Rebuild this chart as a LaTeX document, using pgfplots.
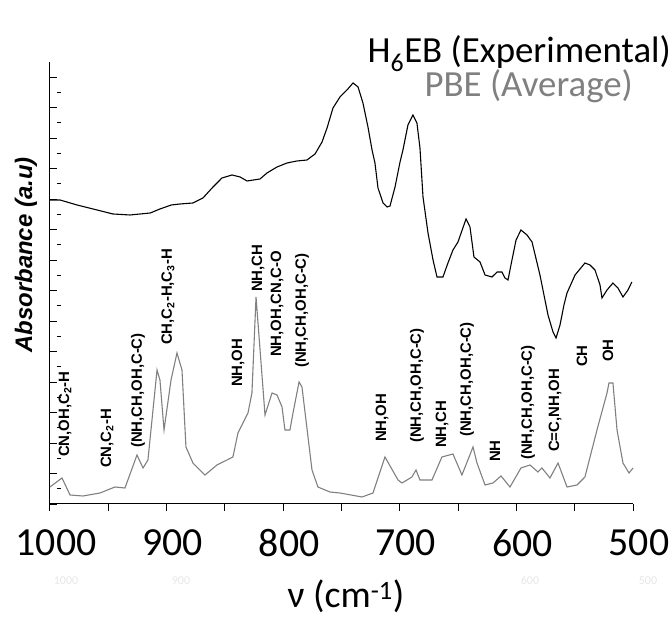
\documentclass[border=0pt]{standalone}
\usepackage{fontspec}
\setmainfont{Carlito}
\newfontfamily\arialfont{Liberation Sans}
\usepackage{pgfplots}
\pgfplotsset{compat=1.18}
\definecolor{pbegray}{HTML}{808080}
\definecolor{faint}{HTML}{E6E6E6}
\newcommand{\lab}{\arialfont\bfseries\fontsize{15}{15}\selectfont}

\pgfplotstableread{
x y
1000 304
991.4 304
976.8 299
959.7 294
946.0 290
931.4 289
914.0 291
905.7 295
896.0 299
888.5 300
877.4 301
868.8 306
860.2 317
852.5 326
843.9 329
837.0 327
831.0 323
819.9 325
813.9 331
805.3 337
796.7 341
788.2 343
779.6 344
772.7 350
766.7 362
762.4 376
757.3 396
751.3 407
745.3 414
740.1 421
735.8 417
731.6 401
727.3 377
723.8 354
721.3 341
718.7 316
714.4 301
710.9 297
708.4 298
704.1 317
699.8 342
697.3 354
693.0 379
688.7 389
685.3 381
682.7 356
680.1 307
675.8 271
671.5 244
668.1 227
663.0 227
658.7 241
654.4 254
650.1 262
643.2 285
639.8 277
636.4 247
631.2 242
626.9 229
620.9 227
616.6 232
612.4 232
609.8 226
607.2 224
603.8 244
600.3 264
596.1 274
590.9 269
586.6 262
579.8 229
572.9 189
568.6 172
566.0 166
562.6 179
559.2 199
556.6 211
549.7 229
541.2 241
536.9 239
532.6 234
528.3 219
526.6 206
522.3 214
517.2 221
512.9 216
508.6 207
504.3 214
501.0 222
}\exper

\pgfplotstableread{
x y
1000 17
989.7 26
982.8 9
971.7 8
957.1 11
944.3 17
935.7 16
925.4 49
920.2 36
916.0 44
908.2 134
905.7 124
902.2 74
896.2 124
891.1 151
886.8 134
883.4 57
877.4 41
867.1 29
856.8 39
848.2 44
843.1 47
838.8 71
830.2 91
826.8 111
823.3 207
815.6 89
809.6 111
805.3 109
801.0 97
798.5 74
794.2 74
791.6 91
786.4 122
783.9 117
775.3 34
770.2 17
759.9 12
751.3 11
732.4 7
723.0 11
712.7 47
701.5 24
698.1 21
689.6 27
686.1 34
682.7 24
672.4 24
663.9 47
654.4 50
646.7 29
637.2 57
633.8 41
626.9 19
620.1 21
613.2 28
605.5 17
596.1 36
588.3 39
581.5 32
578.1 36
571.2 26
564.3 41
556.6 17
548.0 19
541.2 27
530.9 74
522.3 111
520.6 121
517.2 121
513.7 74
508.6 41
503.4 31
500.0 36
}\pbe

\begin{document}
\begin{tikzpicture}[x=1bp,y=1bp]
\path[use as bounding box] (0,0) rectangle (672,618);
\begin{axis}[
  at={(50bp,114bp)}, anchor=south west,
  scale only axis, width=583bp, height=442bp,
  xmin=500, xmax=1000, x dir=reverse,
  ymin=0, ymax=442,
  clip=false,
  axis x line*=bottom, axis y line*=left,
  axis line style={line width=1bp, black},
  tick align=outside,
  major tick length=7bp,
  minor tick length=4bp,
  xtick={500,550,600,650,700,750,800,850,900,950,1000},
  xticklabels={500,,600,,700,,800,,900,,1000},
  xtick style={line width=1bp, black},
  ytick={0,30.5,61,91.5,122,152.5,183,213.5,244,274.5,305,335.5,366,396.5,427},
  yticklabels={},
  minor y tick num=1,
  ytick style={line width=0.8bp, black, xshift=7bp},
  minor y tick style={line width=0.6bp, black, xshift=4bp},
  xticklabel style={font=\fontsize{40}{48}\selectfont, inner sep=0pt, anchor=north, yshift=-18bp, xshift=6bp},
]
\addplot[black, line width=1.1bp] table[x=x,y=y] {\exper};
\addplot[pbegray, line width=1.1bp] table[x=x,y=y] {\pbe};

\begin{scope}[every node/.style={rotate=90, anchor=west, inner sep=0pt, font=\lab}]
\node at (axis cs:987.1,47) {CN,OH,C\textsubscript{2}-H};
\node at (axis cs:951.1,36) {CN,C\textsubscript{2}-H};
\node at (axis cs:924.5,56) {(NH,CH,OH,C-C)};
\node at (axis cs:898.8,159) {CH,C\textsubscript{2}-H,C\textsubscript{3}-H};
\node at (axis cs:838.8,117) {NH,OH};
\node at (axis cs:821.6,212) {NH,CH};
\node at (axis cs:805.3,147) {NH,OH,CN,C-O};
\node at (axis cs:783.9,136) {(NH,CH,OH,C-C)};
\node at (axis cs:715.3,62) {NH,OH};
\node at (axis cs:685.3,61) {(NH,CH,OH,C-C)};
\node at (axis cs:663.8,56) {NH,CH};
\node at (axis cs:642.4,67) {(NH,CH,OH,C-C)};
\node at (axis cs:618.4,42) {NH};
\node at (axis cs:590.0,44) {(NH,CH,OH,C-C)};
\node at (axis cs:566.9,52) {C=C,NH,OH};
\node at (axis cs:543.7,137) {CH};
\node at (axis cs:521.4,142) {OH};
\end{scope}
\end{axis}

% titles and axis labels
\node[anchor=base east, inner sep=0pt, font=\fontsize{37}{40}\selectfont] at (671,555) {H\textsubscript{6}EB (Experimental)};
\node[anchor=base east, inner sep=0pt, font=\fontsize{37}{40}\selectfont, text=pbegray] at (633,521) {PBE (Average)};
\node[rotate=90, inner sep=0pt, font=\arialfont\bfseries\itshape\fontsize{24}{24}\selectfont] at (26,363) {Absorbance (a.u)};
\node[anchor=base, inner sep=0pt, font=\fontsize{38}{40}\selectfont] at (346,10) {ν (cm\textsuperscript{-1})};
% faint duplicate tick labels
\begin{scope}[every node/.style={inner sep=0pt, font=\fontsize{12}{12}\selectfont, text=faint}]
\node at (66,37) {1000};
\node at (181,37) {900};
\node at (530,37) {600};
\node at (648,37) {500};
\end{scope}
\end{tikzpicture}
\end{document}
